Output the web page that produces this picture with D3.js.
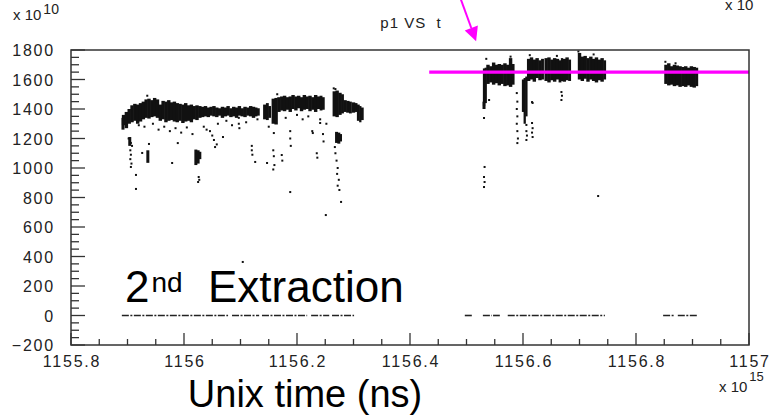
<!DOCTYPE html>
<html><head><meta charset="utf-8">
<script src="https://cdn.jsdelivr.net/npm/d3@7/dist/d3.min.js"></script>
<style>body{margin:0;background:#fff}svg{display:block}</style>
</head><body>
<svg id="c" width="781" height="416"></svg>
<script>
// ---------- data ----------
const xTicks = [1155.8, 1156, 1156.2, 1156.4, 1156.6, 1156.8, 1157];
const xTickLabels = ["1155.8", "1156", "1156.2", "1156.4", "1156.6", "1156.8", "1157"];
const yTicks = [-200, 0, 200, 400, 600, 800, 1000, 1200, 1400, 1600, 1800];
const yTickLabels = ["\u2212200", "0", "200", "400", "600", "800", "1000", "1200", "1400", "1600", "1800"];

// dense bands: [t, low, high]
const bandLeft1 = [
  [1155.890, 1290, 1360], [1155.895, 1270, 1380], [1155.900, 1300, 1400], [1155.905, 1310, 1425],
  [1155.910, 1320, 1435], [1155.915, 1300, 1430], [1155.920, 1315, 1440], [1155.925, 1330, 1450],
  [1155.930, 1340, 1465], [1155.935, 1335, 1470], [1155.940, 1345, 1460], [1155.945, 1350, 1475],
  [1155.950, 1340, 1465], [1155.955, 1320, 1430], [1155.960, 1330, 1455], [1155.965, 1310, 1450],
  [1155.970, 1320, 1460], [1155.975, 1325, 1445], [1155.980, 1315, 1450], [1155.985, 1310, 1440],
  [1155.990, 1320, 1435], [1155.995, 1305, 1430], [1156.000, 1315, 1440], [1156.005, 1320, 1425],
  [1156.010, 1310, 1430], [1156.015, 1330, 1420], [1156.020, 1325, 1425], [1156.025, 1340, 1420],
  [1156.030, 1345, 1415], [1156.035, 1350, 1420], [1156.040, 1345, 1410], [1156.045, 1355, 1415],
  [1156.050, 1350, 1420], [1156.055, 1345, 1410], [1156.060, 1355, 1405], [1156.065, 1340, 1415],
  [1156.070, 1350, 1410], [1156.075, 1355, 1420], [1156.080, 1345, 1405], [1156.085, 1350, 1415],
  [1156.090, 1340, 1410], [1156.095, 1355, 1420], [1156.100, 1350, 1405], [1156.105, 1345, 1415],
  [1156.110, 1355, 1410], [1156.115, 1350, 1420], [1156.120, 1340, 1415], [1156.125, 1350, 1410],
  [1156.129, 1355, 1405]
];
const bandLeft2 = [[1156.140, 1330, 1430], [1156.145, 1325, 1440], [1156.149, 1340, 1420]];
const bandLeft3 = [
  [1156.155, 1300, 1470], [1156.160, 1295, 1475], [1156.165, 1380, 1480], [1156.170, 1390, 1485],
  [1156.175, 1385, 1490], [1156.180, 1395, 1480], [1156.185, 1380, 1485], [1156.190, 1400, 1495],
  [1156.195, 1390, 1485], [1156.200, 1405, 1490], [1156.205, 1385, 1480], [1156.210, 1395, 1495],
  [1156.215, 1400, 1485], [1156.220, 1385, 1490], [1156.225, 1395, 1480], [1156.230, 1380, 1495],
  [1156.235, 1400, 1485], [1156.240, 1390, 1490], [1156.244, 1395, 1480]
];
const bandLeft4 = [
  [1156.263, 1350, 1520], [1156.268, 1345, 1525], [1156.273, 1360, 1510], [1156.278, 1370, 1500],
  [1156.282, 1380, 1460], [1156.287, 1375, 1455], [1156.292, 1370, 1450]
];
const bandLeft5 = [[1156.297, 1375, 1445], [1156.302, 1380, 1440]];
const bandLeft6 = [[1156.306, 1320, 1430], [1156.310, 1310, 1420], [1156.313, 1325, 1410]];

const bandA = [
  [1156.529, 1420, 1675], [1156.532, 1440, 1680], [1156.535, 1570, 1700], [1156.540, 1580, 1690],
  [1156.545, 1565, 1715], [1156.550, 1575, 1700], [1156.555, 1560, 1705], [1156.560, 1570, 1700],
  [1156.565, 1555, 1710], [1156.570, 1560, 1700], [1156.575, 1550, 1745], [1156.580, 1565, 1705]
];
const bandB = [
  [1156.598, 1380, 1600], [1156.601, 1300, 1610], [1156.604, 1350, 1620], [1156.607, 1590, 1740],
  [1156.612, 1600, 1750], [1156.617, 1585, 1735], [1156.622, 1610, 1745], [1156.627, 1595, 1730],
  [1156.632, 1600, 1740]
];
const bandC = [
  [1156.638, 1590, 1745], [1156.643, 1580, 1750], [1156.648, 1595, 1735], [1156.653, 1585, 1745],
  [1156.658, 1600, 1740], [1156.663, 1580, 1730], [1156.667, 1590, 1745], [1156.670, 1585, 1740],
  [1156.675, 1595, 1750], [1156.680, 1590, 1735]
];
const bandD = [
  [1156.697, 1600, 1780], [1156.702, 1590, 1755], [1156.707, 1605, 1760], [1156.712, 1585, 1745],
  [1156.717, 1600, 1755], [1156.722, 1590, 1740], [1156.727, 1580, 1750], [1156.732, 1595, 1735],
  [1156.737, 1585, 1745], [1156.742, 1600, 1730]
];
const bandE = [
  [1156.850, 1570, 1700], [1156.855, 1560, 1710], [1156.860, 1565, 1690], [1156.865, 1555, 1700],
  [1156.870, 1560, 1695], [1156.875, 1550, 1690], [1156.880, 1555, 1685], [1156.885, 1550, 1690],
  [1156.890, 1560, 1680], [1156.895, 1550, 1690], [1156.900, 1545, 1685], [1156.905, 1555, 1680]
];

// narrow dense streaks: [t, low, high]
const streaks = [
  [1155.892, 1260, 1340], [1155.904, 1150, 1210], [1155.936, 1035, 1120],
  [1156.021, 1020, 1125], [1156.025, 1030, 1120], [1156.028, 1060, 1110],
  [1156.270, 1170, 1245], [1156.274, 1165, 1240], [1156.277, 1180, 1230],
  [1156.531, 1400, 1450]
];

// isolated points: [t, p]
const scatterPts = [
  [1155.893, 1330], [1155.895, 1300], [1155.902, 1200], [1155.906, 1170], [1155.908, 1150],
  [1155.905, 1120], [1155.906, 1090], [1155.905, 1060], [1155.907, 1030], [1155.906, 1007],
  [1155.915, 953], [1155.915, 858], [1155.926, 1102], [1155.938, 1163], [1155.979, 1034],
  [1155.989, 1169], [1156.026, 939], [1156.027, 920], [1156.025, 905],
  [1156.046, 1250], [1156.050, 1220], [1156.053, 1190], [1156.058, 1160], [1156.055, 1142],
  [1156.069, 1210], [1156.097, 1340], [1156.097, 1300], [1156.098, 1270],
  [1156.120, 1150], [1156.120, 1120], [1156.121, 1090], [1156.126, 1041], [1156.147, 1034],
  [1156.158, 1120], [1156.159, 1080], [1156.160, 1020], [1156.158, 990], [1156.173, 1088],
  [1156.174, 1050], [1156.159, 1237], [1156.188, 1250], [1156.188, 1200], [1156.189, 1150],
  [1156.188, 837], [1156.200, 1360], [1156.227, 1250], [1156.228, 1237], [1156.235, 1100],
  [1156.236, 1070], [1156.241, 1330], [1156.241, 1305], [1156.246, 1230], [1156.247, 1180],
  [1156.251, 681], [1156.104, 363],
  [1156.267, 1142], [1156.268, 1100], [1156.270, 1050], [1156.272, 1000], [1156.271, 960],
  [1156.274, 920], [1156.272, 880], [1156.275, 851], [1156.278, 770],
  [1155.920, 1290], [1155.930, 1280], [1155.945, 1300], [1155.955, 1260], [1155.965, 1280],
  [1155.975, 1250], [1155.985, 1270], [1155.995, 1240], [1156.005, 1275], [1156.015, 1230],
  [1156.035, 1280], [1156.040, 1260], [1156.060, 1300], [1156.075, 1320], [1156.085, 1290],
  [1156.110, 1310], [1156.130, 1330], [1156.150, 1280], [1156.180, 1340], [1156.210, 1330],
  [1156.220, 1350], [1156.252, 1300],
  [1155.935, 1490], [1156.165, 1500], [1156.265, 1540], [1156.268, 1535],
  [1156.531, 1339], [1156.531, 1470], [1156.532, 1007], [1156.531, 939], [1156.532, 905],
  [1156.531, 871], [1156.540, 1461],
  [1156.589, 1508], [1156.590, 1450], [1156.589, 1400], [1156.590, 1350], [1156.589, 1300],
  [1156.590, 1250], [1156.591, 1200], [1156.590, 1169],
  [1156.606, 1292], [1156.606, 1250], [1156.607, 1220], [1156.606, 1190],
  [1156.616, 1447], [1156.617, 1441], [1156.616, 1305], [1156.617, 1270], [1156.616, 1240],
  [1156.617, 1210], [1156.668, 1515], [1156.669, 1490], [1156.668, 1461], [1156.733, 810],
  [1156.535, 1740], [1156.578, 1755], [1156.612, 1765], [1156.660, 1760], [1156.698, 1790],
  [1156.725, 1770], [1156.852, 1720], [1156.870, 1710]
];

// points recorded at p = 0: [tStart, tEnd]
const zeroRuns = [
  [1155.890, 1156.078], [1156.085, 1156.133], [1156.138, 1156.218], [1156.225, 1156.257],
  [1156.262, 1156.301], [1156.497, 1156.512], [1156.529, 1156.545], [1156.547, 1156.559],
  [1156.573, 1156.745], [1156.848, 1156.869], [1156.874, 1156.908]
];

// magenta reference level and arrow
const refLevel = { t0: 1156.434, t1: 1157.0, p: 1650 };
const arrowTip = { t: 1156.517, p: 1860 };

// ---------- drawing ----------
const svg = d3.select("#c");
const x = d3.scaleLinear().domain([1155.8, 1157]).range([71, 749]);
const y = d3.scaleLinear().domain([-200, 1800]).range([345, 50]);
const FONT = "'Liberation Sans', Arial, sans-serif";
const ink = "#111";

const plot = svg.append("g");

// zero runs
plot.selectAll("line.zero").data(zeroRuns).join("line")
  .attr("x1", d => x(d[0])).attr("x2", d => x(d[1]))
  .attr("y1", y(0)).attr("y2", y(0))
  .attr("stroke", "#222").attr("stroke-width", 1.6)
  .attr("stroke-dasharray", "7,1.5,2,1.5");

// bands
const bands = [bandLeft1, bandLeft2, bandLeft3, bandLeft4, bandLeft5, bandLeft6, bandA, bandB, bandC, bandD, bandE];
bands.forEach(b => {
  plot.append("g").selectAll("rect").data(b).join("rect")
    .attr("x", d => x(d[0]))
    .attr("width", (d, i) => {
      const tn = i < b.length - 1 ? b[i + 1][0] : d[0] + 0.004;
      return x(tn) - x(d[0]) + 0.6;
    })
    .attr("y", d => y(d[2]))
    .attr("height", d => y(d[1]) - y(d[2]))
    .attr("fill", ink);
});

// streaks
plot.selectAll("rect.streak").data(streaks).join("rect")
  .attr("x", d => x(d[0]) - 1.5).attr("width", 3)
  .attr("y", d => y(d[2])).attr("height", d => y(d[1]) - y(d[2]))
  .attr("fill", ink);

// scattered points
plot.selectAll("rect.pt").data(scatterPts).join("rect")
  .attr("x", d => x(d[0]) - 1).attr("y", d => y(d[1]) - 1)
  .attr("width", 2).attr("height", 2).attr("fill", ink);

// magenta level
svg.append("line")
  .attr("x1", x(refLevel.t0)).attr("x2", x(refLevel.t1))
  .attr("y1", y(refLevel.p)).attr("y2", y(refLevel.p))
  .attr("stroke", "#ff00ff").attr("stroke-width", 3.3);

// frame
svg.append("rect").attr("x", 71).attr("y", 50).attr("width", 678).attr("height", 295)
  .attr("fill", "none").attr("stroke", "#333").attr("stroke-width", 1.5);

// x ticks (inside, up from bottom)
const xMinor = d3.range(0, 25).map(i => 1155.8 + i * 0.05);
svg.append("g").selectAll("line").data(xMinor).join("line")
  .attr("x1", d => x(d)).attr("x2", d => x(d))
  .attr("y1", 345).attr("y2", (d, i) => i % 4 === 0 ? 333 : 339)
  .attr("stroke", "#333").attr("stroke-width", 1.3);
// y ticks (inside, right from left axis)
const yMinor = d3.range(0, 41).map(i => -200 + i * 50);
svg.append("g").selectAll("line").data(yMinor).join("line")
  .attr("y1", d => y(d)).attr("y2", d => y(d))
  .attr("x1", 71).attr("x2", (d, i) => i % 4 === 0 ? 85 : 79)
  .attr("stroke", "#333").attr("stroke-width", 1.3);

// tick labels
svg.append("g").selectAll("text").data(xTicks).join("text")
  .attr("x", d => x(d) + 1).attr("y", 367)
  .attr("text-anchor", "middle")
  .style("font-family", FONT).style("font-size", "16px").style("letter-spacing", "1.8px")
  .attr("fill", "#222")
  .text((d, i) => xTickLabels[i]);
svg.append("g").selectAll("text").data(yTicks).join("text")
  .attr("x", 55).attr("y", d => y(d) + 6)
  .attr("text-anchor", "end")
  .style("font-family", FONT).style("font-size", "16px").style("letter-spacing", "1.8px")
  .attr("fill", "#222")
  .text((d, i) => yTickLabels[i]);

// exponent labels
const t1 = svg.append("text").attr("x", 13).attr("y", 20)
  .style("font-family", FONT).style("font-size", "15px").attr("fill", "#222");
t1.append("tspan").text("x 10");
t1.append("tspan").attr("dx", 2).attr("dy", -6).style("font-size", "14px").text("10");

svg.append("text").attr("x", 725).attr("y", 10)
  .style("font-family", FONT).style("font-size", "15px").attr("fill", "#222").text("x 10");

const t2 = svg.append("text").attr("x", 719).attr("y", 392)
  .style("font-family", FONT).style("font-size", "15px").attr("fill", "#222");
t2.append("tspan").text("x 10");
t2.append("tspan").attr("dx", 2).attr("dy", -11).style("font-size", "13px").text("15");

// title
svg.append("text").attr("x", 411).attr("y", 28).attr("text-anchor", "middle")
  .style("font-family", FONT).style("font-size", "15px").style("letter-spacing", "1px")
  .attr("fill", "#222").attr("xml:space", "preserve").text("p1 VS  t");

// big annotation
const ann = svg.append("text").attr("x", 125).attr("y", 302)
  .style("font-family", FONT).style("font-size", "44px").attr("fill", "#000");
ann.append("tspan").text("2");
ann.append("tspan").attr("dx", 2).attr("dy", -10).style("font-size", "28px").text("nd");
ann.append("tspan").attr("x", 208).attr("dy", 10).text("Extraction");

// axis title
svg.append("text").attr("x", 305).attr("y", 407).attr("text-anchor", "middle")
  .style("font-family", FONT).style("font-size", "38px").attr("fill", "#000")
  .text("Unix time (ns)");

// arrow
const tipX = x(arrowTip.t), tipY = y(arrowTip.p);
const dir = [0.343, 0.939];
const baseX = tipX - 14 * dir[0], baseY = tipY - 14 * dir[1];
svg.append("line").attr("x1", tipX - 50 * dir[0]).attr("y1", tipY - 50 * dir[1])
  .attr("x2", baseX).attr("y2", baseY)
  .attr("stroke", "#ff00ff").attr("stroke-width", 2);
svg.append("path")
  .attr("d", `M${tipX},${tipY}L${baseX + 7 * dir[1]},${baseY - 7 * dir[0]}L${baseX - 7 * dir[1]},${baseY + 7 * dir[0]}Z`)
  .attr("fill", "#ff00ff");
</script>
</body></html>
